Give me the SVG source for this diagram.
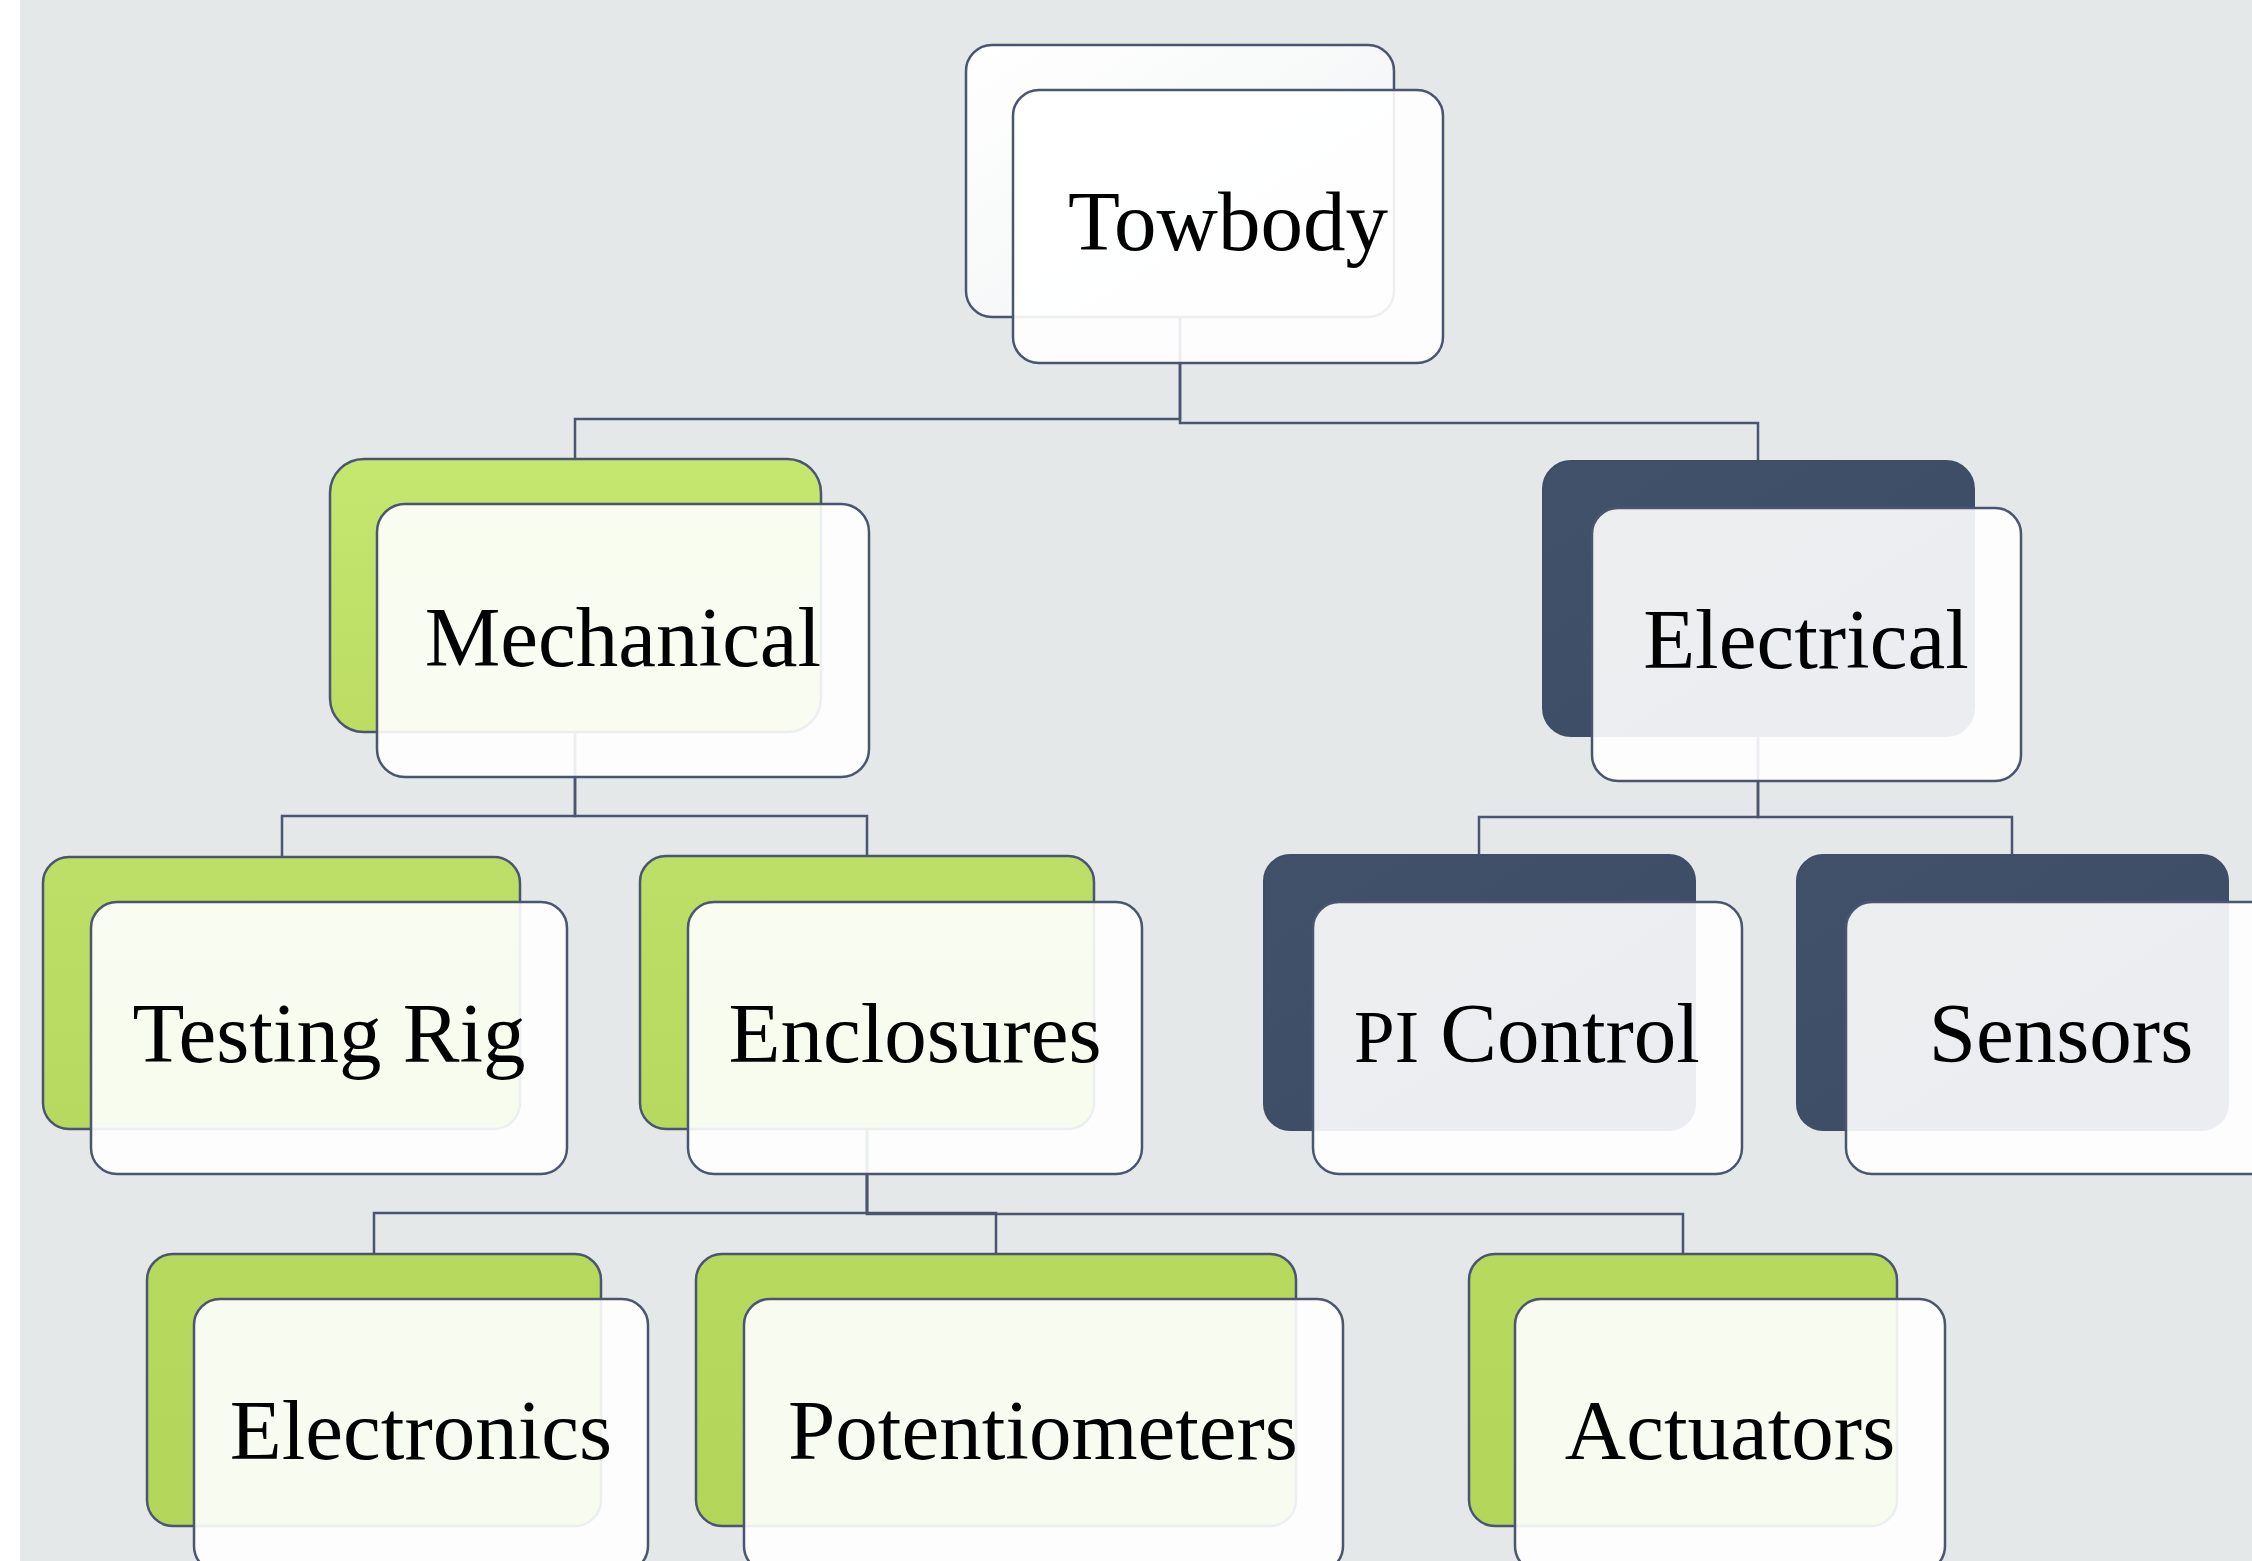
<svg xmlns="http://www.w3.org/2000/svg" width="2252" height="1561" viewBox="0 0 2252 1561">
<defs>
<linearGradient id="gw" x1="0" y1="0" x2="1" y2="1"><stop offset="0" stop-color="#ffffff"/><stop offset="1" stop-color="#eff1f2"/></linearGradient>
<linearGradient id="g1" x1="0" y1="0" x2="0" y2="1"><stop offset="0" stop-color="#c5e770"/><stop offset="1" stop-color="#bcdc62"/></linearGradient>
<linearGradient id="g2" x1="0" y1="0" x2="0" y2="1"><stop offset="0" stop-color="#bddf67"/><stop offset="1" stop-color="#b8d95f"/></linearGradient>
<linearGradient id="g3" x1="0" y1="0" x2="0" y2="1"><stop offset="0" stop-color="#b7d95e"/><stop offset="1" stop-color="#b3d55a"/></linearGradient>
<linearGradient id="gd" x1="0" y1="0" x2="1" y2="1"><stop offset="0" stop-color="#42516a"/><stop offset="1" stop-color="#3d4c65"/></linearGradient>
</defs>
<style>
.back{stroke:#4a5670;stroke-width:2.5}
.dark{fill:url(#gd);stroke:#3f4e67;stroke-width:2}
.front{fill:#ffffff;fill-opacity:0.9;stroke:#4a5670;stroke-width:2.5}
.lbl{font-family:"Liberation Serif","Times New Roman",serif;font-size:85px;fill:#000;text-anchor:middle}
.con{fill:none;stroke:#4a5670;stroke-width:2.5}
</style>
<rect x="0" y="0" width="2252" height="1561" fill="#ffffff"/>
<rect x="20" y="0" width="2232" height="1561" fill="#e4e8e9"/>
<g id="connectors">
<path class="con" d="M1180,317 V419 H575 V459"/>
<path class="con" d="M1180,317 V423 H1758 V461"/>
<path class="con" d="M575,732 V816 H282 V857"/>
<path class="con" d="M575,732 V816 H867 V856"/>
<path class="con" d="M1758,736 V817 H1479 V855"/>
<path class="con" d="M1758,736 V817 H2012 V855"/>
<path class="con" d="M867,1129 V1213 H374 V1254"/>
<path class="con" d="M867,1129 V1213 H996 V1254"/>
<path class="con" d="M867,1129 V1214 H1683 V1254"/>
</g>
<g id="towbody">
<rect class="back" fill="url(#gw)" x="966" y="45" width="428" height="272" rx="26"/>
<rect class="front" x="1013" y="90" width="430" height="273" rx="26"/>
<text class="lbl" x="1228" y="250">Towbody</text>
</g>
<g id="mechanical">
<rect class="back" fill="url(#g1)" x="330" y="459" width="491" height="273" rx="34"/>
<rect class="front" x="377" y="504" width="492" height="273" rx="28"/>
<text class="lbl" x="623" y="666">Mechanical</text>
</g>
<g id="electrical">
<rect class="dark" x="1543" y="461" width="431" height="275" rx="28"/>
<rect class="front" x="1592" y="508" width="429" height="273" rx="26"/>
<text class="lbl" x="1806" y="668">Electrical</text>
</g>
<g id="testing-rig">
<rect class="back" fill="url(#g2)" x="43" y="857" width="477" height="272" rx="26"/>
<rect class="front" x="91" y="902" width="476" height="272" rx="26"/>
<text class="lbl" x="329" y="1062">Testing Rig</text>
</g>
<g id="enclosures">
<rect class="back" fill="url(#g2)" x="640" y="856" width="454" height="273" rx="26"/>
<rect class="front" x="688" y="902" width="454" height="272" rx="26"/>
<text class="lbl" x="915" y="1062">Enclosures</text>
</g>
<g id="pi-control">
<rect class="dark" x="1264" y="855" width="431" height="275" rx="26"/>
<rect class="front" x="1313" y="902" width="429" height="272" rx="26"/>
<text class="lbl" x="1527" y="1062"><tspan font-size="73">PI</tspan> Control</text>
</g>
<g id="sensors">
<rect class="dark" x="1797" y="855" width="431" height="275" rx="26"/>
<rect class="front" x="1846" y="902" width="430" height="272" rx="26"/>
<text class="lbl" x="2061" y="1062">Sensors</text>
</g>
<g id="electronics">
<rect class="back" fill="url(#g3)" x="147" y="1254" width="454" height="272" rx="26"/>
<rect class="front" x="194" y="1299" width="454" height="273" rx="26"/>
<text class="lbl" x="421" y="1459">Electronics</text>
</g>
<g id="potentiometers">
<rect class="back" fill="url(#g3)" x="696" y="1254" width="600" height="272" rx="26"/>
<rect class="front" x="744" y="1299" width="599" height="273" rx="26"/>
<text class="lbl" x="1043" y="1459">Potentiometers</text>
</g>
<g id="actuators">
<rect class="back" fill="url(#g3)" x="1469" y="1254" width="428" height="272" rx="26"/>
<rect class="front" x="1515" y="1299" width="430" height="273" rx="26"/>
<text class="lbl" x="1730" y="1459">Actuators</text>
</g>
</svg>
